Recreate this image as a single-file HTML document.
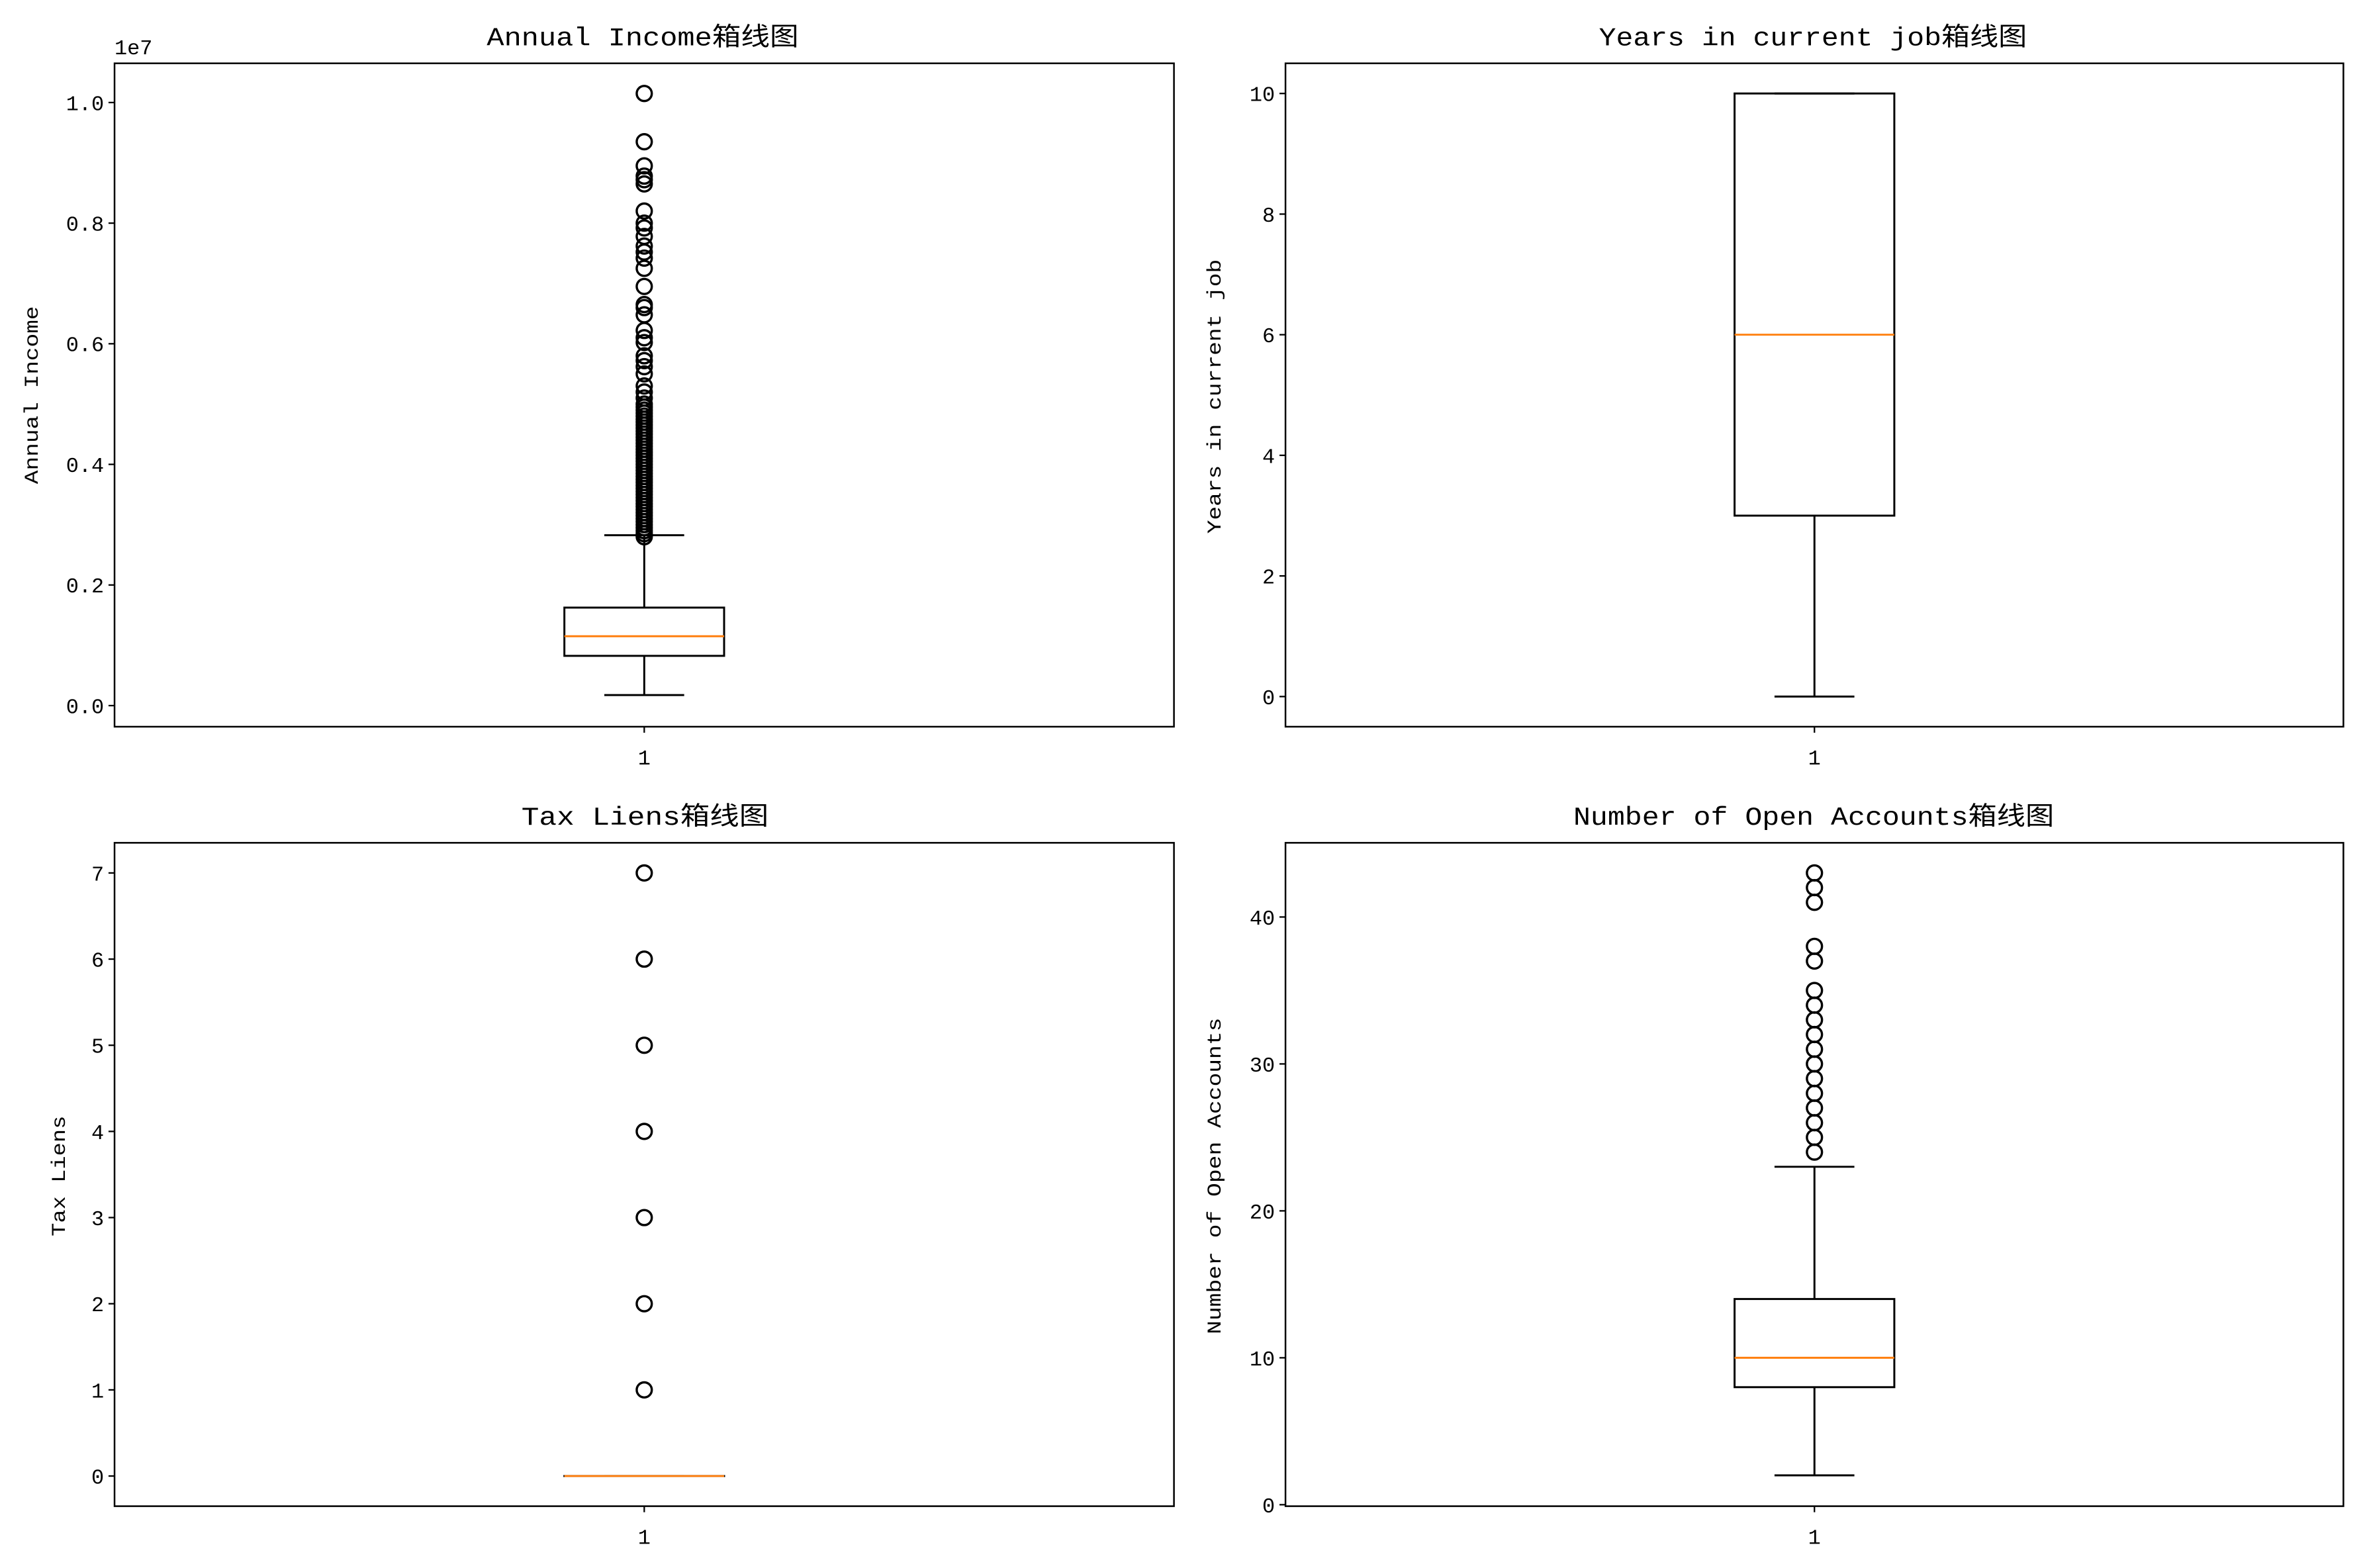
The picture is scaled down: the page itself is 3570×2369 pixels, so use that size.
<!DOCTYPE html>
<html><head><meta charset="utf-8"><style>
html,body{margin:0;padding:0;background:#fff}
svg{display:block}
text{font-family:"Liberation Mono","Noto Sans CJK SC",monospace;fill:#000}
</style></head><body>
<svg id="fig" width="3570" height="2369" viewBox="0 0 1568 1040" preserveAspectRatio="none" xmlns="http://www.w3.org/2000/svg"></svg>
<script>
// Panel 1: Annual Income (units of 1e6, axis offset 1e7)
const incomeStats = [0.175, 0.825, 1.15, 1.625, 2.825]; // whislo, q1, med, q3, whishi
const incomeOutliers = [10.15, 9.35, 8.95, 8.78, 8.72, 8.65, 8.2, 8.0, 7.92, 7.78, 7.62, 7.52, 7.42, 7.25, 6.95, 6.65, 6.6, 6.48, 6.22, 6.1, 6.02, 5.8, 5.72, 5.62, 5.5, 5.3, 5.2, 5.1, 5.0, 4.95, 4.9, 4.85, 4.8, 4.75, 4.7, 4.65, 4.6, 4.55, 4.5, 4.45, 4.4, 4.35, 4.3, 4.25, 4.2, 4.15, 4.1, 4.05, 4.0, 3.95, 3.9, 3.85, 3.8, 3.75, 3.7, 3.65, 3.6, 3.55, 3.5, 3.45, 3.4, 3.35, 3.3, 3.25, 3.2, 3.15, 3.1, 3.05, 3.0, 2.95, 2.9, 2.85, 2.8];
const incomeTicks = [0, 2, 4, 6, 8, 10];
const incomeTickLabels = ["0.0", "0.2", "0.4", "0.6", "0.8", "1.0"];
// Panel 2: Years in current job
const yearsStats = [0, 3, 6, 10, 10];
const yearsOutliers = [];
const yearsTicks = [0, 2, 4, 6, 8, 10];
const yearsTickLabels = ["0", "2", "4", "6", "8", "10"];
// Panel 3: Tax Liens
const taxStats = [0, 0, 0, 0, 0];
const taxOutliers = [1, 2, 3, 4, 5, 6, 7];
const taxTicks = [0, 1, 2, 3, 4, 5, 6, 7];
const taxTickLabels = ["0", "1", "2", "3", "4", "5", "6", "7"];
// Panel 4: Number of Open Accounts
const openStats = [2, 8, 10, 14, 23];
const openOutliers = [24, 25, 26, 27, 28, 29, 30, 31, 32, 33, 34, 35, 37, 38, 41, 42, 43];
const openTicks = [0, 10, 20, 30, 40];
const openTickLabels = ["0", "10", "20", "30", "40"];

const NS = "http://www.w3.org/2000/svg";
const fig = document.getElementById("fig");
function mk(tag, attrs, parent) {
  const e = document.createElementNS(NS, tag);
  for (const k in attrs) e.setAttribute(k, attrs[k]);
  (parent || fig).appendChild(e);
  return e;
}
function panel(cfg) {
  const g = mk("g", {});
  
  
  const L = cfg.x0, R = cfg.x1, T = cfg.y0, B = cfg.y1;
  const ys = v => B - (v - cfg.ymin) / (cfg.ymax - cfg.ymin) * (B - T);
  const cx = (L + R) / 2;
  const half = 53;
  const cap = 26.5;
  const s = cfg.stats;
  const w1 = mk("line", {x1: cx, x2: cx, y1: ys(s[1]), y2: ys(s[0]), stroke: "#000", "stroke-width": 1.3}, g);
  
  
  const w2 = mk("line", {x1: cx, x2: cx, y1: ys(s[3]), y2: ys(s[4]), stroke: "#000", "stroke-width": 1.3}, g);
  
  
  const c1 = mk("line", {x1: cx - cap, x2: cx + cap, y1: ys(s[0]), y2: ys(s[0]), stroke: "#000", "stroke-width": 1.3}, g);
  
  
  const c2 = mk("line", {x1: cx - cap, x2: cx + cap, y1: ys(s[4]), y2: ys(s[4]), stroke: "#000", "stroke-width": 1.3}, g);
  
  
  const box = mk("rect", {x: cx - half, y: ys(s[3]), width: 2 * half, height: Math.max(0.01, ys(s[1]) - ys(s[3])), fill: "none", stroke: "#000", "stroke-width": 1.3}, g);
  
  
  const med = mk("line", {x1: cx - half, x2: cx + half, y1: ys(s[2]), y2: ys(s[2]), stroke: "#ff7f0e", "stroke-width": 1.3}, g);
  
  
  cfg.outliers.forEach(v => {
    const c = mk("circle", {cx: cx, cy: ys(v), r: 5, fill: "none", stroke: "#000", "stroke-width": 1.5}, g);
    
    
  });
  const fr = mk("rect", {x: L, y: T, width: R - L, height: B - T, fill: "none", stroke: "#000", "stroke-width": 1.1}, g);
  
  
  cfg.ticks.forEach((v, i) => {
    const y = ys(v);
    const t = mk("line", {x1: L - 4, x2: L, y1: y, y2: y, stroke: "#000", "stroke-width": 1}, g);
    
    
    const tx = mk("text", {x: L - 7, y: y + 5, "text-anchor": "end", "font-size": 14}, g);
    
    
    tx.textContent = cfg.labels[i];
  });
  const xt = mk("line", {x1: cx, x2: cx, y1: B, y2: B + 4, stroke: "#000", "stroke-width": 1}, g);
  
  
  const xl = mk("text", {x: cx, y: B + 25, "text-anchor": "middle", "font-size": 14}, g);
  
  
  xl.textContent = "1";
  const ti = mk("text", {x: cfg.tx0, y: T - 12, "font-size": 17, textLength: cfg.tw, lengthAdjust: "spacingAndGlyphs"}, g);
  
  
  ti.textContent = cfg.title;
  const yl = mk("text", {x: 0, y: 0, "text-anchor": "middle", "font-size": 13, textLength: cfg.yw, lengthAdjust: "spacingAndGlyphs", transform: "translate(" + (cfg.ylabX) + "," + cfg.ylabY + ") rotate(-90)"}, g);
  
  
  yl.textContent = cfg.ylabel;
  if (cfg.offset) {
    const of = mk("text", {x: L, y: T - 6, "font-size": 14}, g);
    
    
    of.textContent = cfg.offset;
  }
}
panel({name: "annual-income-panel", x0: 76, x1: 779, y0: 42, y1: 482, ymin: -0.35, ymax: 10.65, stats: incomeStats, outliers: incomeOutliers, ticks: incomeTicks, labels: incomeTickLabels, title: "Annual Income箱线图", tx0: 323, tw: 207, ylabel: "Annual Income", ylabX: 25, ylabY: 262, yw: 118, offset: "1e7"});
panel({name: "years-in-job-panel", x0: 853, x1: 1555, y0: 42, y1: 482, ymin: -0.5, ymax: 10.5, stats: yearsStats, outliers: yearsOutliers, ticks: yearsTicks, labels: yearsTickLabels, title: "Years in current job箱线图", tx0: 1061, tw: 284, ylabel: "Years in current job", ylabX: 810, ylabY: 263, yw: 182});
panel({name: "tax-liens-panel", x0: 76, x1: 779, y0: 559, y1: 999, ymin: -0.35, ymax: 7.35, stats: taxStats, outliers: taxOutliers, ticks: taxTicks, labels: taxTickLabels, title: "Tax Liens箱线图", tx0: 346, tw: 164, ylabel: "Tax Liens", ylabX: 43, ylabY: 780, yw: 80});
panel({name: "open-accounts-panel", x0: 853, x1: 1555, y0: 559, y1: 999, ymin: -0.1, ymax: 45.05, stats: openStats, outliers: openOutliers, ticks: openTicks, labels: openTickLabels, title: "Number of Open Accounts箱线图", tx0: 1044, tw: 319, ylabel: "Number of Open Accounts", ylabX: 810, ylabY: 780, yw: 210});
</script>
</body></html>
